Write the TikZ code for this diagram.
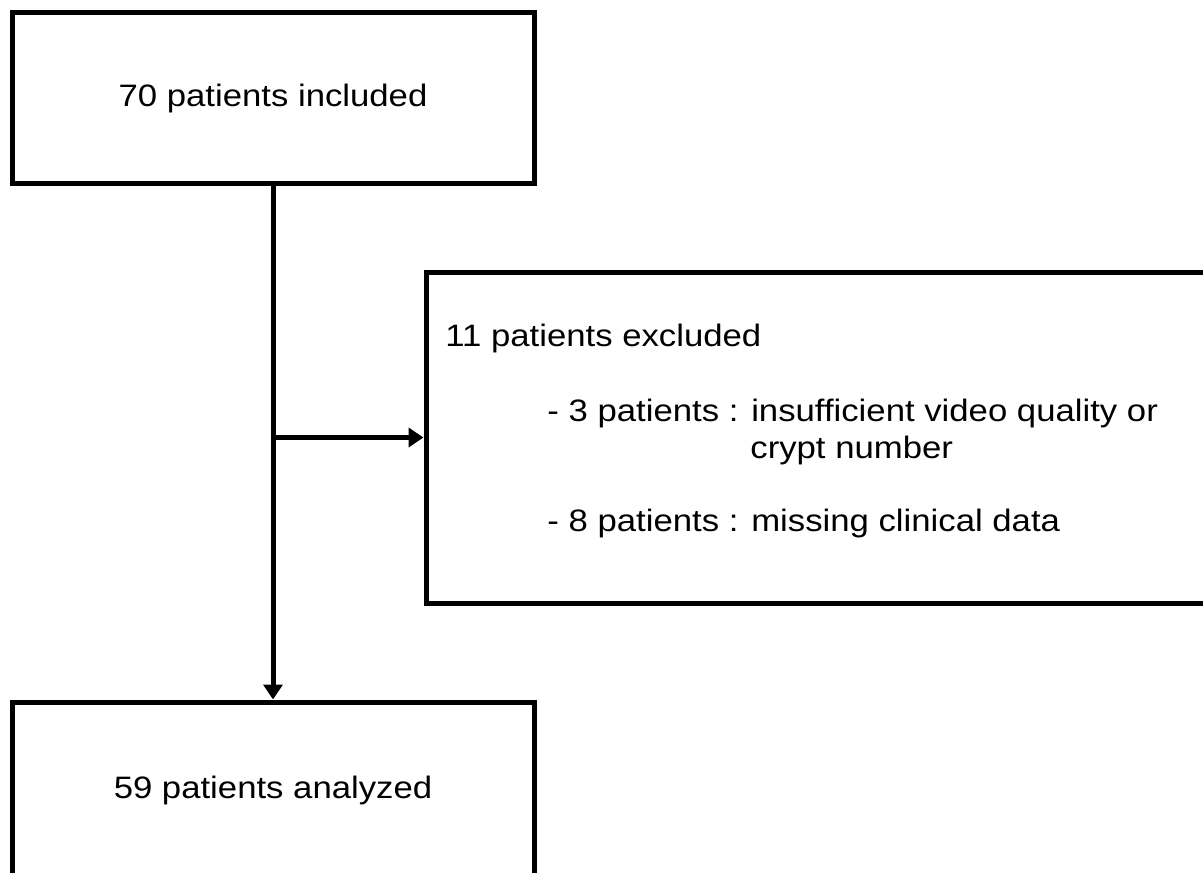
\documentclass[tikz,border=0pt]{standalone}
\usepackage{fontspec}
\setmainfont{Liberation Sans}[FakeStretch=1.12]
\usetikzlibrary{arrows.meta}

\begin{document}
\begin{tikzpicture}[x=0.5pt, y=-0.5pt]
    \useasboundingbox (0,0) rectangle (1203,872);
    \begin{scope}[every node/.style={draw, line width=2.5pt, rectangle, inner sep=0pt, font=\fontsize{15.5}{18}\selectfont}]
                        \node [minimum width=261pt, minimum height=85.5pt] (inc) at (273,98) {70 patients included};
                        \node [minimum width=394.5pt, minimum height=165.5pt] (excl) at (820.5,437.5) {};
                        \node [minimum width=261pt, minimum height=88pt] (ana) at (273,790) {59 patients analyzed};
                \end{scope}

                \begin{scope}[every node/.style={anchor=west, inner sep=0pt, font=\fontsize{15.5}{18}\selectfont}]
                        \node (exclhead) at (445,338) {11 patients excluded};
                        \node (excla) at (547,413) {- 3 patients : insufficient video quality or};
                        \node (exclb) at (750,450) {crypt number};
                        \node (exclc) at (547,523) {- 8 patients : missing clinical data};
                \end{scope}

                \coordinate (branch) at (inc.south |- excl.west);

                \begin{scope}[every path/.style={line width=2.5pt, ->, >={Stealth[length=7.5pt, width=9.5pt, inset=0pt]}}]
                        \path (inc.south) edge (ana.north);
                        \path (branch) edge (excl.west);
               \end{scope}
\end{tikzpicture}
\end{document}
